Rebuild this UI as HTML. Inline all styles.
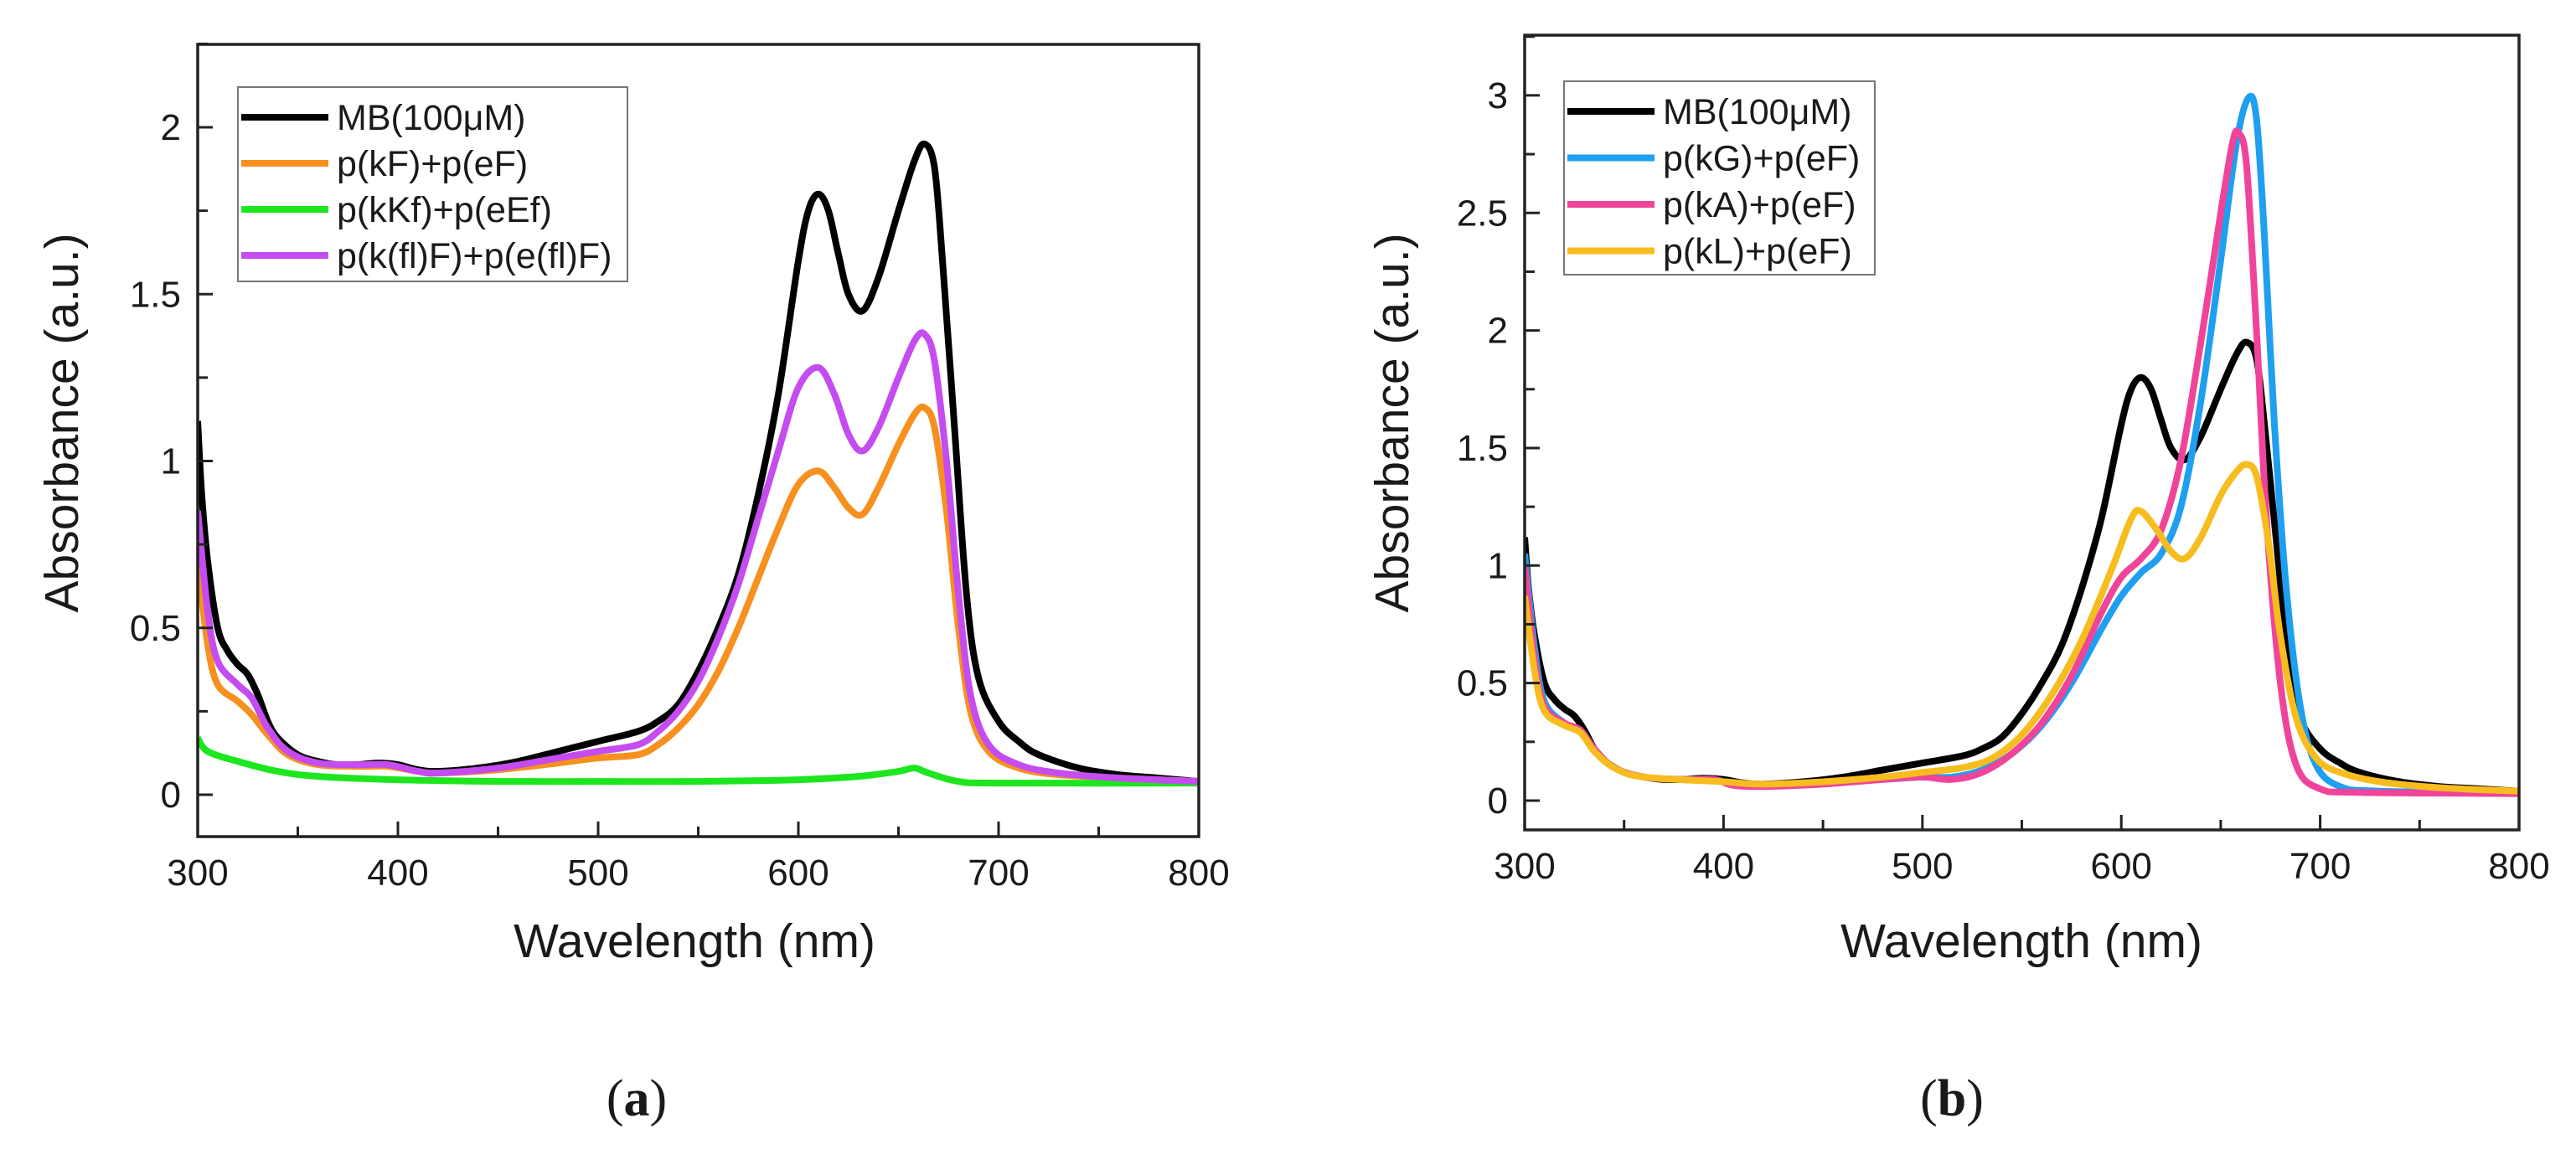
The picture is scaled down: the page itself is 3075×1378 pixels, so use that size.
<!DOCTYPE html>
<html><head><meta charset="utf-8"><style>
html,body{margin:0;padding:0;background:#fff}
svg{display:block}
text{font-family:"Liberation Sans",sans-serif;fill:#1a1a1a}
</style></head><body>
<svg id="fig" width="3075" height="1378" viewBox="0 0 3075 1378" xmlns="http://www.w3.org/2000/svg">
<text x="760" y="1332" text-anchor="middle" font-size="62" style="font-family:'Liberation Serif',serif">(<tspan font-weight="bold">a</tspan>)</text>
<text x="2330" y="1332" text-anchor="middle" font-size="62" style="font-family:'Liberation Serif',serif">(<tspan font-weight="bold">b</tspan>)</text>
</svg>
<script>
const mbW=[300,302,305,310,315,320,325,330,335,340,350,360,370,380,390,400,410,420,440,460,480,500,520,530,540,550,560,570,580,590,600,605,610,615,620,625,632,640,650,658,663,668,672,678,684,690,700,710,720,740,760,780,800];
const mbA=[1.12,0.9,0.7,0.5,0.43,0.39,0.36,0.3,0.22,0.17,0.12,0.1,0.09,0.09,0.095,0.09,0.075,0.07,0.08,0.1,0.13,0.16,0.19,0.22,0.27,0.37,0.5,0.66,0.9,1.2,1.6,1.75,1.8,1.75,1.62,1.5,1.45,1.55,1.75,1.9,1.95,1.88,1.6,1.1,0.6,0.35,0.22,0.16,0.12,0.08,0.06,0.05,0.04];
const kfW=[300,305,310,320,327,335,345,360,380,395,410,420,450,480,500,520,530,540,550,560,570,580,590,600,610,618,625,632,640,650,658,663,668,674,680,686,695,710,730,760,800];
const kfA=[0.7,0.45,0.33,0.28,0.24,0.18,0.12,0.09,0.085,0.085,0.07,0.065,0.075,0.095,0.11,0.12,0.15,0.2,0.27,0.37,0.5,0.65,0.8,0.93,0.97,0.92,0.86,0.84,0.92,1.05,1.14,1.16,1.1,0.85,0.5,0.25,0.13,0.08,0.06,0.05,0.04];
const flW=kfW;
const flA=[0.85,0.55,0.4,0.33,0.29,0.2,0.13,0.095,0.09,0.09,0.07,0.065,0.08,0.11,0.13,0.15,0.19,0.25,0.34,0.47,0.63,0.83,1.03,1.22,1.28,1.2,1.08,1.03,1.1,1.25,1.36,1.38,1.3,1.0,0.6,0.3,0.15,0.09,0.065,0.05,0.04];
const kkW=[300,305,320,340,360,400,450,500,550,600,630,650,658,665,680,700,800];
const kkA=[0.17,0.13,0.1,0.07,0.055,0.045,0.04,0.04,0.04,0.045,0.055,0.07,0.08,0.065,0.04,0.035,0.035];
const kgW=[300,305,310,320,328,335,345,360,380,395,405,420,450,480,500,515,530,545,560,575,590,600,610,620,630,640,650,658,664,668,672,677,683,690,698,710,730,800];
const kgA=[1.05,0.65,0.42,0.33,0.3,0.22,0.14,0.1,0.09,0.09,0.07,0.065,0.075,0.09,0.1,0.1,0.13,0.2,0.32,0.5,0.73,0.87,0.97,1.05,1.25,1.7,2.3,2.8,2.99,2.9,2.4,1.6,0.9,0.4,0.15,0.06,0.04,0.03];
const kaW=[300,305,310,320,328,335,345,360,380,395,405,420,450,480,500,515,530,545,560,575,590,600,610,620,630,640,650,656,659,663,668,673,680,688,700,720,800];
const kaA=[1.0,0.6,0.4,0.33,0.3,0.22,0.14,0.1,0.09,0.09,0.065,0.06,0.07,0.09,0.1,0.09,0.12,0.2,0.33,0.53,0.8,0.95,1.03,1.15,1.45,1.95,2.5,2.8,2.84,2.7,2.0,1.2,0.5,0.15,0.05,0.035,0.03];
const klW=[300,305,310,320,328,335,345,360,400,420,450,480,500,520,535,550,565,580,595,605,610,618,625,632,640,650,658,663,668,674,680,688,698,710,730,760,800];
const klA=[0.87,0.55,0.38,0.32,0.29,0.21,0.14,0.1,0.08,0.07,0.08,0.1,0.12,0.14,0.18,0.28,0.45,0.68,0.98,1.2,1.23,1.15,1.06,1.03,1.12,1.3,1.4,1.43,1.38,1.1,0.7,0.35,0.18,0.12,0.08,0.055,0.04];
const xTicks=[300,400,500,600,700,800];
const yTicksA=[0,0.5,1,1.5,2];
const yTicksB=[0,0.5,1,1.5,2,2.5,3];
const yLabelsA=["0","0.5","1","1.5","2"];
const yLabelsB=["0","0.5","1","1.5","2","2.5","3"];
const legA=["MB(100\u03bcM)","p(kF)+p(eF)","p(kKf)+p(eEf)","p(k(fl)F)+p(e(fl)F)"];
const legB=["MB(100\u03bcM)","p(kG)+p(eF)","p(kA)+p(eF)","p(kL)+p(eF)"];

const NS="http://www.w3.org/2000/svg";
const svg=document.getElementById('fig');
function mk(tag,attrs,parent){const e=document.createElementNS(NS,tag);for(const k in attrs)e.setAttribute(k,attrs[k]);(parent||svg).appendChild(e);return e;}
function smooth(pts){let d="M"+pts[0][0].toFixed(1)+","+pts[0][1].toFixed(1);
 for(let i=0;i<pts.length-1;i++){const p0=pts[Math.max(0,i-1)],p1=pts[i],p2=pts[i+1],p3=pts[Math.min(pts.length-1,i+2)];
 const c1x=p1[0]+(p2[0]-p0[0])/6,c1y=p1[1]+(p2[1]-p0[1])/6,c2x=p2[0]-(p3[0]-p1[0])/6,c2y=p2[1]-(p3[1]-p1[1])/6;
 d+=" C"+c1x.toFixed(1)+","+c1y.toFixed(1)+" "+c2x.toFixed(1)+","+c2y.toFixed(1)+" "+p2[0].toFixed(1)+","+p2[1].toFixed(1);}return d;}

function chart(cfg){
 const g=mk('g',{});
 
 
 const X=v=>cfg.x0+(v-300)/500*(cfg.x1-cfg.x0);
 const Y=v=>cfg.yz-v*cfg.yu;
 const top=cfg.top,bot=cfg.bot;
 const clipId='clip'+cfg.name;
 const cp=mk('clipPath',{id:clipId},g);mk('rect',{x:cfg.x0,y:top,width:cfg.x1-cfg.x0,height:bot-top},cp);
 const sg=mk('g',{'clip-path':'url(#'+clipId+')'},g);
 cfg.series.forEach(s=>{
  const p=mk('path',{d:smooth(s.w.map((w,i)=>[X(w),Y(s.a[i])])),fill:'none',stroke:s.c,'stroke-width':8,'stroke-linejoin':'round'},sg);
  
  
 });
 const fr=mk('rect',{x:cfg.x0,y:top,width:cfg.x1-cfg.x0,height:bot-top,fill:'none',stroke:'#222','stroke-width':3.5},g);
 
 
 for(let v=300;v<=800;v+=50){const maj=v%100===0;mk('line',{x1:X(v),x2:X(v),y1:bot,y2:bot-(maj?18:12),stroke:'#222','stroke-width':3},g);}
 for(let v=0;v<=cfg.ymaxTick;v+=0.25){const maj=Math.abs(v*2-Math.round(v*2))<1e-6;mk('line',{x1:cfg.x0,x2:cfg.x0+(maj?18:12),y1:Y(v),y2:Y(v),stroke:'#222','stroke-width':3},g);}
 xTicks.forEach(v=>{const t=mk('text',{x:X(v),y:bot+58,'text-anchor':'middle','font-size':44},g);t.textContent=v;
  
  });
 cfg.yt.forEach((v,i)=>{const t=mk('text',{x:cfg.x0-20,y:Y(v)+15,'text-anchor':'end','font-size':44},g);t.textContent=cfg.yl[i];
  
  });
 const xt=mk('text',{x:cfg.xtx,y:1143,'text-anchor':'middle','font-size':57},g);xt.textContent="Wavelength (nm)";
 
 
 const yt=mk('text',{x:0,y:0,'text-anchor':'middle','font-size':57,transform:'translate('+cfg.ytx+',505) rotate(-90)'},g);yt.textContent="Absorbance (a.u.)";
 
 
 const lg=mk('g',{},g);
 
 
 mk('rect',{x:cfg.lx,y:cfg.ly,width:cfg.lw,height:cfg.lh,fill:'#fff',stroke:'#777','stroke-width':2},lg);
 cfg.series.slice(0,4).forEach((s,i)=>{const yy=cfg.ly+36+i*cfg.ls;
  mk('line',{x1:cfg.lx+4,x2:cfg.lx+108,y1:yy,y2:yy,stroke:s.c,'stroke-width':8},lg);
  const t=mk('text',{x:cfg.lx+118,y:yy+15,'font-size':43},lg);t.textContent=cfg.leg[i];
  
  });
}
chart({name:'chart-a',x0:236,x1:1431,yz:949,yu:398.5,top:53,bot:999,ymaxTick:2.25,yt:yTicksA,yl:yLabelsA,leg:legA,lx:284,ly:104,lw:465,lh:232,ls:55,xtx:829,ytx:93,
 series:[{w:mbW,a:mbA,c:'#000',n:'series-mb'},{w:kfW,a:kfA,c:'#f7901e',n:'series-pkf'},{w:kkW,a:kkA,c:'#1ee61e',n:'series-pkkf'},{w:flW,a:flA,c:'#c44cf0',n:'series-pkflf'}]});
chart({name:'chart-b',x0:1820,x1:3007,yz:956,yu:280.7,top:42,bot:991,ymaxTick:3.25,yt:yTicksB,yl:yLabelsB,leg:legB,lx:1867,ly:97,lw:371,lh:231,ls:55.5,xtx:2413,ytx:1681,
 series:[{w:mbW,a:mbA,c:'#000',n:'series-mb'},{w:kgW,a:kgA,c:'#1e9ff0',n:'series-pkg'},{w:kaW,a:kaA,c:'#f0449a',n:'series-pka'},{w:klW,a:klA,c:'#f7bc1e',n:'series-pkl'}]});
</script>
</body></html>
